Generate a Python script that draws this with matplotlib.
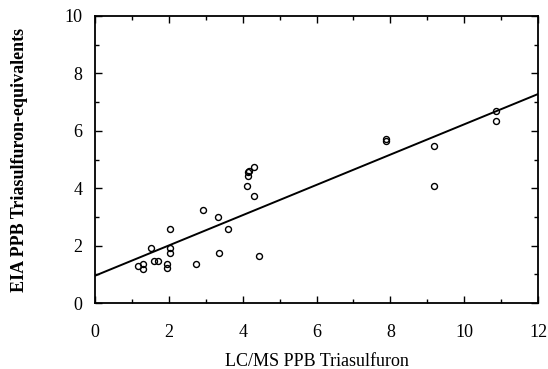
import matplotlib.pyplot as plt
import numpy as np
from matplotlib.ticker import MultipleLocator

# LC/MS vs EIA readings (ppb)
lcms = [1.17, 1.31, 1.31, 1.53, 1.59, 1.71, 1.95, 1.95, 2.02, 2.02, 2.02,
        2.74, 2.92, 3.32, 3.35, 3.60, 4.11, 4.15, 4.15, 4.16, 4.32, 4.30,
        4.45, 7.89, 7.89, 9.18, 9.18, 10.85, 10.85]
eia = [1.29, 1.37, 1.20, 1.91, 1.47, 1.47, 1.37, 1.23, 2.59, 1.90, 1.74,
       1.36, 3.23, 2.99, 1.74, 2.58, 4.07, 4.43, 4.55, 4.59, 4.73, 3.73,
       1.64, 5.73, 5.64, 5.48, 4.06, 6.70, 6.34]

# regression line
intercept = 0.95
slope = 0.5275

plt.rcParams['font.family'] = ['Liberation Serif', 'DejaVu Serif']

fig = plt.figure(figsize=(5.48, 3.69), dpi=100)
ax = fig.add_axes([95 / 548, 1 - 303 / 369, 443 / 548, 287 / 369])

ax.plot(lcms, eia, 'o', mfc='none', mec='black', ms=4.3, mew=1.0)
xl = np.array([0, 12])
ax.plot(xl, intercept + slope * xl, color='black', lw=1.4)

ax.set_xlim(0, 12)
ax.set_ylim(0, 10)
ax.xaxis.set_major_locator(MultipleLocator(2))
ax.xaxis.set_minor_locator(MultipleLocator(1))
ax.yaxis.set_major_locator(MultipleLocator(2))
ax.yaxis.set_minor_locator(MultipleLocator(1))
ax.tick_params(which='both', direction='in', top=True, right=True,
               labelsize=13, width=1)
ax.tick_params(which='major', length=5)
ax.tick_params(which='minor', length=3)
ax.tick_params(axis='x', pad=15)
ax.tick_params(axis='y', pad=9)
for s in ax.spines.values():
    s.set_linewidth(1.3)

ax.set_xlabel('LC/MS PPB Triasulfuron', fontsize=13, labelpad=9)
ax.set_ylabel('EIA PPB Triasulfuron-equivalents', fontsize=13,
              fontweight='bold', labelpad=26)

fig.savefig('out.png', dpi=100)
